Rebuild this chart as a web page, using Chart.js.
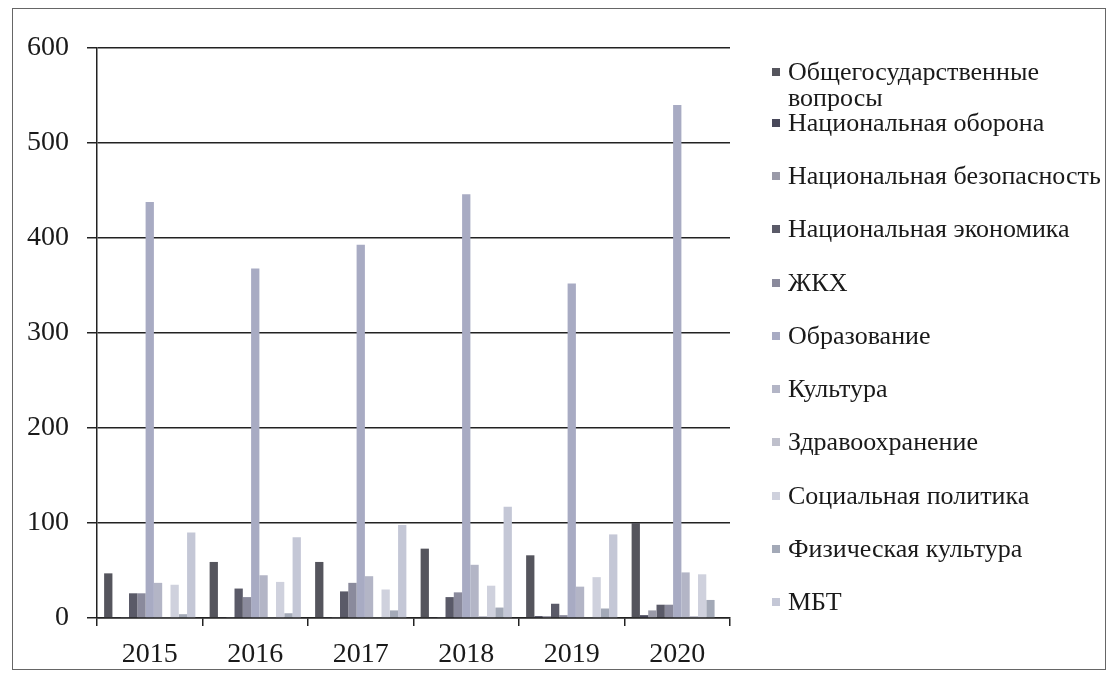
<!DOCTYPE html>
<html>
<head>
<meta charset="utf-8">
<script src="https://cdn.jsdelivr.net/npm/chart.js@4.4.1/dist/chart.umd.min.js"></script>
<style>
  html, body { margin: 0; padding: 0; background: #fff; }
  #wrap { position: relative; width: 1112px; height: 679px; overflow: hidden; }
  #frame { position: absolute; left: 12px; top: 8px; width: 1094px; height: 662px; border: 1px solid #666; box-sizing: border-box; }
  canvas { position: absolute; left: 0; top: 0; }
  #legend { position: absolute; left: 0; top: 0; font-family: "Liberation Serif", serif; font-size: 26px; color: #1a1a1a; }
  .item { position: absolute; left: 772px; white-space: nowrap; line-height: 26px; }
  .sw { position: absolute; left: 0; top: 9px; width: 8px; height: 8px; }
  .txt { position: absolute; left: 16px; top: 0; }
</style>
</head>
<body>
<div id="wrap">
  <div id="frame"></div>
  <canvas id="c" width="1112" height="679"></canvas>
  <div id="legend"></div>
</div>
<script>
const years = ["2015", "2016", "2017", "2018", "2019", "2020"];
const seriesNames = [
  "Общегосударственные вопросы",
  "Национальная оборона",
  "Национальная безопасность",
  "Национальная экономика",
  "ЖКХ",
  "Образование",
  "Культура",
  "Здравоохранение",
  "Социальная политика",
  "Физическая культура",
  "МБТ"
];
const generalIssues = [47, 59, 59, 73, 66, 100];
const defense       = [1, 1, 1, 1, 2, 3];
const security      = [1, 1, 1, 1, 2, 8];
const economy       = [26, 31, 28, 22, 15, 14];
const housing       = [26, 22, 37, 27, 3, 14];
const education     = [438, 368, 393, 446, 352, 540];
const culture       = [37, 45, 44, 56, 33, 48];
const health        = [1, 1, 1, 2, 1, 2];
const socialPolicy  = [35, 38, 30, 34, 43, 46];
const sport         = [4, 5, 8, 11, 10, 19];
const mbt           = [90, 85, 98, 117, 88, 0];
const yTicks = [0, 100, 200, 300, 400, 500, 600];

const seriesValues = [generalIssues, defense, security, economy, housing, education, culture, health, socialPolicy, sport, mbt];
const colors = ["#55555d", "#48485a", "#9a9aa8", "#5a5a68", "#8a8a9c", "#a8abc3", "#b3b5c6", "#bfc0cc", "#cfd1dd", "#a3a9b7", "#c4c7d6"];

const datasets = seriesNames.map((n, i) => ({
  label: n,
  data: seriesValues[i],
  backgroundColor: colors[i],
  borderWidth: 0,
  barPercentage: 1,
  categoryPercentage: 0.865
}));

const font = { family: "Liberation Serif", size: 28 };

new Chart(document.getElementById("c"), {
  type: "bar",
  data: { labels: years, datasets },
  options: {
    responsive: false,
    animation: false,
    devicePixelRatio: 1,
    layout: { padding: { left: 0, right: 382, top: 48, bottom: 16 } },
    plugins: { legend: { display: false }, tooltip: { enabled: false } },
    scales: {
      x: {
        offset: true,
        grid: { offset: true, drawOnChartArea: false, drawTicks: true, tickLength: 8, color: "#222", lineWidth: 1.5 },
        border: { display: true, color: "#222", width: 1.5 },
        ticks: { color: "#1a1a1a", font, padding: 12 },
        afterFit: s => { s.height = 45; }
      },
      y: {
        min: 0, max: 600,
        afterBuildTicks: s => { s.ticks = yTicks.map(v => ({ value: v })); },
        grid: { color: "#222", lineWidth: 1.5, tickLength: 10 },
        border: { display: true, color: "#222", width: 1.5 },
        ticks: { color: "#1a1a1a", font, padding: 18 },
        afterFit: s => { s.width = 97; }
      }
    }
  }
});

const legendTops = [59, 110, 163, 216, 270, 323, 376, 429, 483, 536, 589];
const leg = document.getElementById("legend");
seriesNames.forEach((n, i) => {
  const d = document.createElement("div");
  d.className = "item";
  d.style.top = legendTops[i] + "px";
  const sw = document.createElement("div");
  sw.className = "sw";
  sw.style.background = colors[i];
  const t = document.createElement("div");
  t.className = "txt";
  if (i === 0) { t.innerHTML = "Общегосударственные<br>вопросы"; } else { t.textContent = n; }
  d.appendChild(sw); d.appendChild(t);
  leg.appendChild(d);
});
</script>
</body>
</html>
